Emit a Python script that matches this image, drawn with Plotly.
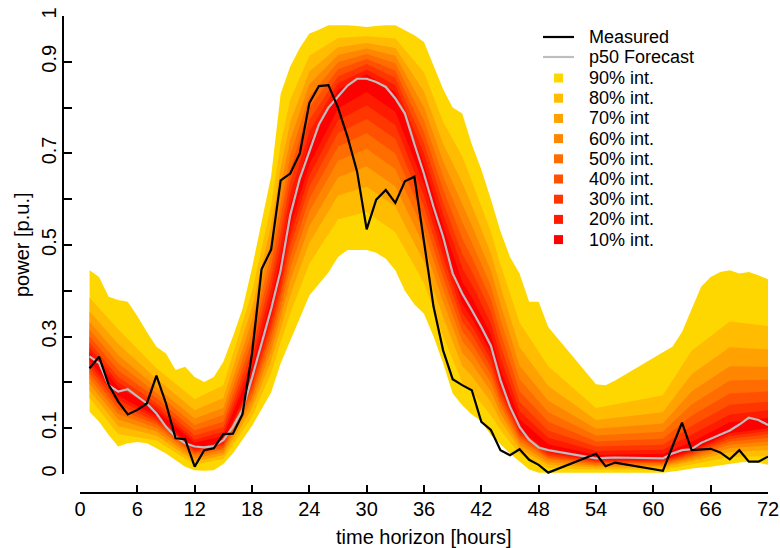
import plotly.graph_objects as go

# ---------------- data ----------------
hours_fine = list(range(1, 50)) + [54, 55, 56] + list(range(61, 73))

measured = [0.231, 0.256, 0.195, 0.158, 0.130, 0.140, 0.154, 0.215, 0.154, 0.078,
            0.076, 0.016, 0.052, 0.056, 0.087, 0.088, 0.130, 0.263, 0.447, 0.490,
            0.641, 0.656, 0.700, 0.810, 0.847, 0.849, 0.800, 0.736, 0.660, 0.534,
            0.599, 0.620, 0.592, 0.639, 0.649, 0.510, 0.365, 0.270, 0.207, 0.194,
            0.183, 0.114, 0.096, 0.052, 0.041, 0.054, 0.031, 0.020, 0.003,
            0.044, 0.017, 0.025,
            0.007, 0.060, 0.112, 0.052, 0.054, 0.055, 0.047, 0.032, 0.052, 0.027, 0.027, 0.038]

p50 = [0.257, 0.242, 0.194, 0.180, 0.185, 0.169, 0.154, 0.132, 0.103, 0.081,
       0.067, 0.060, 0.058, 0.061, 0.074, 0.103, 0.140, 0.210, 0.285, 0.360,
       0.445, 0.565, 0.645, 0.705, 0.763, 0.800, 0.825, 0.848, 0.863, 0.863,
       0.856, 0.845, 0.820, 0.787, 0.720, 0.655, 0.583, 0.518, 0.438, 0.394,
       0.358, 0.321, 0.280, 0.205, 0.147, 0.103, 0.075, 0.058, 0.052,
       0.034, 0.035, 0.036,
       0.034, 0.045, 0.052, 0.054, 0.068, 0.077, 0.085, 0.095, 0.108, 0.123, 0.118, 0.107]

up90 = [0.445, 0.430, 0.387, 0.380, 0.376, 0.345, 0.310, 0.278, 0.263, 0.227,
        0.234, 0.212, 0.201, 0.212, 0.245, 0.300, 0.360, 0.450, 0.550, 0.650,
        0.830, 0.890, 0.930, 0.962, 0.970, 0.980, 0.980, 0.980, 0.978, 0.976,
        0.978, 0.980, 0.980, 0.969, 0.958, 0.943, 0.890, 0.840, 0.800, 0.787,
        0.720, 0.665, 0.600, 0.530, 0.474, 0.438, 0.376, 0.376, 0.321,
        0.196, 0.194, 0.204,
        0.266, 0.278, 0.310, 0.360, 0.409, 0.430, 0.441, 0.445, 0.438, 0.441, 0.434, 0.425]

lo90 = [0.136, 0.114, 0.085, 0.060, 0.067, 0.070, 0.067, 0.056, 0.045, 0.031,
        0.016, 0.008, 0.007, 0.008, 0.022, 0.045, 0.075, 0.105, 0.140, 0.178,
        0.242, 0.290, 0.340, 0.390, 0.415, 0.440, 0.474, 0.489, 0.489, 0.489,
        0.483, 0.470, 0.445, 0.400, 0.370, 0.350, 0.300, 0.242, 0.176, 0.150,
        0.130, 0.115, 0.085, 0.065, 0.045, 0.027, 0.010, 0.003, 0.002,
        0.003, 0.003, 0.003,
        0.003, 0.005, 0.008, 0.012, 0.014, 0.016, 0.018, 0.022, 0.025, 0.027, 0.025, 0.020]

hours_band = [1, 4, 8, 12, 15, 18, 20, 21, 22, 24, 27, 30, 33, 36, 38, 40, 41, 43, 44, 46, 49, 54, 61, 64, 68, 72]

up80 = [0.385, 0.316, 0.231, 0.163, 0.194, 0.398, 0.586, 0.722, 0.817, 0.913, 0.952, 0.956, 0.951, 0.877, 0.769, 0.694, 0.640, 0.529, 0.458, 0.331, 0.235, 0.144, 0.172, 0.269, 0.333, 0.323]
up70 = [0.355, 0.284, 0.208, 0.139, 0.166, 0.363, 0.543, 0.669, 0.768, 0.879, 0.932, 0.941, 0.930, 0.835, 0.721, 0.636, 0.586, 0.482, 0.410, 0.277, 0.192, 0.118, 0.135, 0.218, 0.277, 0.272]
up60 = [0.332, 0.260, 0.190, 0.121, 0.144, 0.335, 0.508, 0.627, 0.729, 0.851, 0.915, 0.929, 0.913, 0.801, 0.683, 0.590, 0.543, 0.444, 0.371, 0.237, 0.160, 0.099, 0.110, 0.180, 0.235, 0.234]
up50 = [0.315, 0.242, 0.177, 0.107, 0.129, 0.311, 0.479, 0.591, 0.695, 0.825, 0.899, 0.917, 0.897, 0.772, 0.650, 0.550, 0.506, 0.411, 0.338, 0.207, 0.135, 0.084, 0.092, 0.152, 0.204, 0.206]
up40 = [0.300, 0.226, 0.166, 0.095, 0.114, 0.290, 0.453, 0.558, 0.665, 0.799, 0.884, 0.906, 0.881, 0.746, 0.621, 0.514, 0.473, 0.382, 0.309, 0.180, 0.114, 0.071, 0.077, 0.127, 0.176, 0.180]
up30 = [0.287, 0.212, 0.155, 0.084, 0.102, 0.270, 0.428, 0.528, 0.637, 0.773, 0.868, 0.895, 0.865, 0.722, 0.593, 0.481, 0.443, 0.355, 0.281, 0.157, 0.095, 0.060, 0.064, 0.105, 0.151, 0.158]
up20 = [0.276, 0.200, 0.147, 0.075, 0.092, 0.251, 0.405, 0.500, 0.611, 0.747, 0.853, 0.883, 0.849, 0.699, 0.568, 0.450, 0.414, 0.329, 0.255, 0.137, 0.079, 0.050, 0.053, 0.086, 0.130, 0.139]
up10 = [0.266, 0.190, 0.139, 0.068, 0.083, 0.233, 0.382, 0.472, 0.585, 0.723, 0.839, 0.873, 0.834, 0.677, 0.543, 0.420, 0.386, 0.305, 0.230, 0.120, 0.065, 0.042, 0.044, 0.070, 0.113, 0.123]

lo10 = [0.248, 0.171, 0.126, 0.056, 0.070, 0.206, 0.346, 0.429, 0.539, 0.676, 0.798, 0.834, 0.791, 0.632, 0.497, 0.371, 0.340, 0.265, 0.194, 0.097, 0.048, 0.032, 0.032, 0.051, 0.089, 0.100]
lo20 = [0.239, 0.162, 0.120, 0.052, 0.066, 0.197, 0.332, 0.414, 0.518, 0.652, 0.772, 0.805, 0.762, 0.608, 0.475, 0.352, 0.323, 0.250, 0.183, 0.091, 0.044, 0.029, 0.029, 0.048, 0.083, 0.094]
lo30 = [0.230, 0.152, 0.114, 0.048, 0.062, 0.188, 0.318, 0.397, 0.497, 0.627, 0.744, 0.775, 0.732, 0.584, 0.453, 0.333, 0.305, 0.234, 0.172, 0.085, 0.040, 0.027, 0.027, 0.044, 0.077, 0.087]
lo40 = [0.220, 0.142, 0.108, 0.044, 0.057, 0.178, 0.303, 0.380, 0.474, 0.601, 0.715, 0.744, 0.700, 0.558, 0.429, 0.312, 0.285, 0.218, 0.160, 0.079, 0.036, 0.024, 0.024, 0.041, 0.071, 0.079]
lo50 = [0.209, 0.131, 0.101, 0.040, 0.053, 0.168, 0.286, 0.362, 0.449, 0.573, 0.684, 0.710, 0.666, 0.530, 0.404, 0.290, 0.265, 0.200, 0.148, 0.072, 0.032, 0.021, 0.021, 0.037, 0.064, 0.071]
lo60 = [0.197, 0.119, 0.093, 0.034, 0.047, 0.156, 0.268, 0.341, 0.422, 0.541, 0.648, 0.672, 0.628, 0.499, 0.376, 0.265, 0.241, 0.180, 0.133, 0.064, 0.026, 0.018, 0.018, 0.032, 0.057, 0.062]
lo70 = [0.183, 0.104, 0.084, 0.028, 0.041, 0.143, 0.247, 0.317, 0.390, 0.505, 0.608, 0.627, 0.584, 0.463, 0.343, 0.236, 0.214, 0.157, 0.117, 0.055, 0.020, 0.014, 0.014, 0.028, 0.048, 0.052]
lo80 = [0.166, 0.087, 0.073, 0.021, 0.033, 0.125, 0.220, 0.287, 0.350, 0.459, 0.556, 0.572, 0.528, 0.417, 0.301, 0.199, 0.180, 0.128, 0.096, 0.044, 0.013, 0.010, 0.010, 0.021, 0.037, 0.039]

band_labels = ["90% int.", "80% int.", "70% int", "60% int.", "50% int.",
               "40% int.", "30% int.", "20% int.", "10% int."]
band_colors = ["#FFD700", "#FFBC00", "#FFA100", "#FF8600", "#FF6C00",
               "#FF5100", "#FF3600", "#FF1B00", "#FF0000"]

x_ticks = list(range(0, 73, 6))
y_ticks = [0, 0.1, 0.2, 0.3, 0.4, 0.5, 0.6, 0.7, 0.8, 0.9, 1.0]
y_ticktext = ["0", "0.1", "", "0.3", "", "0.5", "", "0.7", "", "0.9", "1"]

# ---------------- figure ----------------
W, H = 780, 548
ML, MR, MT, MB = 63, 12, 16, 55
PW, PH = W - ML - MR, H - MT - MB


def pxx(px):
    return (px - ML) / PW


def pyy(py):
    return (H - MB - py) / PH


fig = go.Figure()

bands = [
    (hours_fine, up90, lo90),
    (hours_band, up80, lo80),
    (hours_band, up70, lo70),
    (hours_band, up60, lo60),
    (hours_band, up50, lo50),
    (hours_band, up40, lo40),
    (hours_band, up30, lo30),
    (hours_band, up20, lo20),
    (hours_band, up10, lo10),
]
for (xs, up, lo), col in zip(bands, band_colors):
    fig.add_trace(go.Scatter(
        x=list(xs) + list(xs)[::-1], y=list(up) + list(lo)[::-1],
        fill="toself", fillcolor=col, mode="lines",
        line=dict(width=0, color=col), hoverinfo="skip", showlegend=False))

fig.add_trace(go.Scatter(x=hours_fine, y=p50, mode="lines",
                         line=dict(color="#BEBEBE", width=2.2), showlegend=False))
fig.add_trace(go.Scatter(x=hours_fine, y=measured, mode="lines",
                         line=dict(color="black", width=2.2), showlegend=False))

font_family = "Liberation Sans, Arial, Helvetica, sans-serif"

fig.update_layout(
    width=W, height=H,
    margin=dict(l=ML, r=MR, t=MT, b=MB, autoexpand=False),
    paper_bgcolor="white", plot_bgcolor="white",
    font=dict(family=font_family, size=20, color="black"),
    showlegend=False,
    xaxis=dict(range=[0, 72], domain=[(80 - ML) / PW, 1], anchor="free", position=0,
               automargin=False, ticklabelstandoff=-2,
               showline=True, linecolor="black", linewidth=1.6,
               ticks="inside", ticklen=7, tickwidth=1.6, tickcolor="black",
               tickvals=x_ticks, ticktext=[str(v) for v in x_ticks],
               showgrid=False, zeroline=False, tickfont=dict(size=20)),
    yaxis=dict(range=[0, 1], domain=[(H - MB - 474) / PH, 1], anchor="free", position=0,
               automargin=False, ticklabelstandoff=-2,
               showline=True, linecolor="black", linewidth=1.6,
               ticks="inside", ticklen=8, tickwidth=1.6, tickcolor="black",
               tickvals=y_ticks, ticktext=y_ticktext, tickangle=-90,
               showgrid=False, zeroline=False, tickfont=dict(size=20)),
)

# axis titles
fig.add_annotation(text="time horizon [hours]", xref="paper", yref="paper",
                   x=pxx(424), y=pyy(537), showarrow=False,
                   xanchor="center", yanchor="middle", font=dict(size=20))
fig.add_annotation(text="power [p.u.]", xref="paper", yref="paper",
                   x=pxx(22), y=pyy(245), showarrow=False, textangle=-90,
                   xanchor="center", yanchor="middle", font=dict(size=20))

# legend (drawn manually)
legend_rows = [37, 57] + [78 + 20.2 * i for i in range(9)]
fig.add_shape(type="line", xref="paper", yref="paper",
              x0=pxx(543), x1=pxx(574), y0=pyy(legend_rows[0]), y1=pyy(legend_rows[0]),
              line=dict(color="black", width=2.2))
fig.add_shape(type="line", xref="paper", yref="paper",
              x0=pxx(543), x1=pxx(574), y0=pyy(legend_rows[1]), y1=pyy(legend_rows[1]),
              line=dict(color="#BEBEBE", width=2.2))
for i, col in enumerate(band_colors):
    yc = legend_rows[2 + i]
    fig.add_shape(type="rect", xref="paper", yref="paper",
                  x0=pxx(554), x1=pxx(563), y0=pyy(yc - 4.5), y1=pyy(yc + 4.5),
                  fillcolor=col, line=dict(width=0))
for label, yc in zip(["Measured", "p50 Forecast"] + band_labels, legend_rows):
    fig.add_annotation(text=label, xref="paper", yref="paper",
                       x=pxx(587), y=pyy(yc), showarrow=False,
                       xanchor="left", yanchor="middle", font=dict(size=18))

fig.write_html("out.html")
